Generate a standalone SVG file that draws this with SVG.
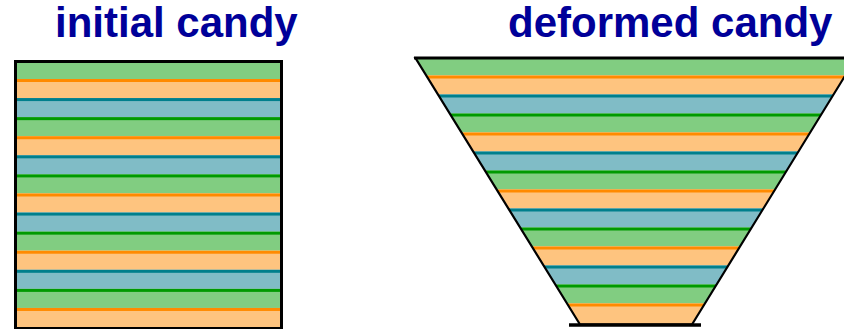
<svg xmlns="http://www.w3.org/2000/svg" width="844" height="329" viewBox="0 0 844 329">
  <style>
    .title { font-family: "Liberation Sans", Arial, sans-serif; font-weight: bold; font-size: 42px; fill: #000099; }
    .g { fill: #81cd81; }
    .p { fill: #fec47f; }
    .b { fill: #80bcc6; }
    .lo { fill: #ff8a00; }
    .lt { fill: #007f8c; }
    .lg { fill: #009a00; }
  </style>
  <defs>
    <clipPath id="trapClip">
      <polygon points="415.5,58 856,58 692,324.5 580,324.5"/>
    </clipPath>
  </defs>
  <rect width="844" height="329" fill="#ffffff"/>

  <g id="title-initial">
    <text class="title" x="55" y="37">initial candy</text>
  </g>
  <g id="title-deformed">
    <text class="title" x="508" y="37">deformed candy</text>
  </g>

  <g id="initial-candy">
    <g id="initial-stripes">
      <rect class="g" x="15.5" y="61.5" width="266" height="17.5"/>
      <rect class="p" x="15.5" y="79" width="266" height="19.08"/>
      <rect class="b" x="15.5" y="98.08" width="266" height="19.08"/>
      <rect class="g" x="15.5" y="117.16" width="266" height="19.08"/>
      <rect class="p" x="15.5" y="136.24" width="266" height="19.08"/>
      <rect class="b" x="15.5" y="155.32" width="266" height="19.08"/>
      <rect class="g" x="15.5" y="174.4" width="266" height="19.08"/>
      <rect class="p" x="15.5" y="193.48" width="266" height="19.08"/>
      <rect class="b" x="15.5" y="212.56" width="266" height="19.08"/>
      <rect class="g" x="15.5" y="231.64" width="266" height="19.08"/>
      <rect class="p" x="15.5" y="250.72" width="266" height="19.08"/>
      <rect class="b" x="15.5" y="269.8" width="266" height="19.08"/>
      <rect class="g" x="15.5" y="288.88" width="266" height="19.08"/>
      <rect class="p" x="15.5" y="307.96" width="266" height="21"/>
      <rect class="lo" x="15.5" y="79" width="266" height="3"/>
      <rect class="lt" x="15.5" y="98.08" width="266" height="3"/>
      <rect class="lg" x="15.5" y="117.16" width="266" height="3"/>
      <rect class="lo" x="15.5" y="136.24" width="266" height="3"/>
      <rect class="lt" x="15.5" y="155.32" width="266" height="3"/>
      <rect class="lg" x="15.5" y="174.4" width="266" height="3"/>
      <rect class="lo" x="15.5" y="193.48" width="266" height="3"/>
      <rect class="lt" x="15.5" y="212.56" width="266" height="3"/>
      <rect class="lg" x="15.5" y="231.64" width="266" height="3"/>
      <rect class="lo" x="15.5" y="250.72" width="266" height="3"/>
      <rect class="lt" x="15.5" y="269.8" width="266" height="3"/>
      <rect class="lg" x="15.5" y="288.88" width="266" height="3"/>
      <rect class="lo" x="15.5" y="307.96" width="266" height="3"/>
    </g>
    <rect x="15.5" y="61.5" width="266" height="267" fill="none" stroke="#000000" stroke-width="3"/>
  </g>

  <g id="deformed-candy">
    <g id="deformed-stripes" clip-path="url(#trapClip)">
      <rect class="g" x="400" y="58" width="460" height="17.5"/>
      <rect class="p" x="400" y="75.5" width="460" height="19"/>
      <rect class="b" x="400" y="94.5" width="460" height="19"/>
      <rect class="g" x="400" y="113.5" width="460" height="19"/>
      <rect class="p" x="400" y="132.5" width="460" height="19"/>
      <rect class="b" x="400" y="151.5" width="460" height="19"/>
      <rect class="g" x="400" y="170.5" width="460" height="19"/>
      <rect class="p" x="400" y="189.5" width="460" height="19"/>
      <rect class="b" x="400" y="208.5" width="460" height="19"/>
      <rect class="g" x="400" y="227.5" width="460" height="19"/>
      <rect class="p" x="400" y="246.5" width="460" height="19"/>
      <rect class="b" x="400" y="265.5" width="460" height="19"/>
      <rect class="g" x="400" y="284.5" width="460" height="19"/>
      <rect class="p" x="400" y="303.5" width="460" height="22"/>
      <rect class="lo" x="400" y="75.5" width="460" height="3"/>
      <rect class="lt" x="400" y="94.5" width="460" height="3"/>
      <rect class="lg" x="400" y="113.5" width="460" height="3"/>
      <rect class="lo" x="400" y="132.5" width="460" height="3"/>
      <rect class="lt" x="400" y="151.5" width="460" height="3"/>
      <rect class="lg" x="400" y="170.5" width="460" height="3"/>
      <rect class="lo" x="400" y="189.5" width="460" height="3"/>
      <rect class="lt" x="400" y="208.5" width="460" height="3"/>
      <rect class="lg" x="400" y="227.5" width="460" height="3"/>
      <rect class="lo" x="400" y="246.5" width="460" height="3"/>
      <rect class="lt" x="400" y="265.5" width="460" height="3"/>
      <rect class="lg" x="400" y="284.5" width="460" height="3"/>
      <rect class="lo" x="400" y="303.5" width="460" height="3"/>
    </g>
    <polygon points="415.5,58 856,58 692,324.5 580,324.5" fill="none" stroke="#000000" stroke-width="2.2" stroke-linejoin="miter"/>
    <line x1="414" y1="58" x2="860" y2="58" stroke="#000000" stroke-width="3"/>
    <line x1="569" y1="325" x2="701" y2="325" stroke="#000000" stroke-width="3.5"/>
  </g>
</svg>
